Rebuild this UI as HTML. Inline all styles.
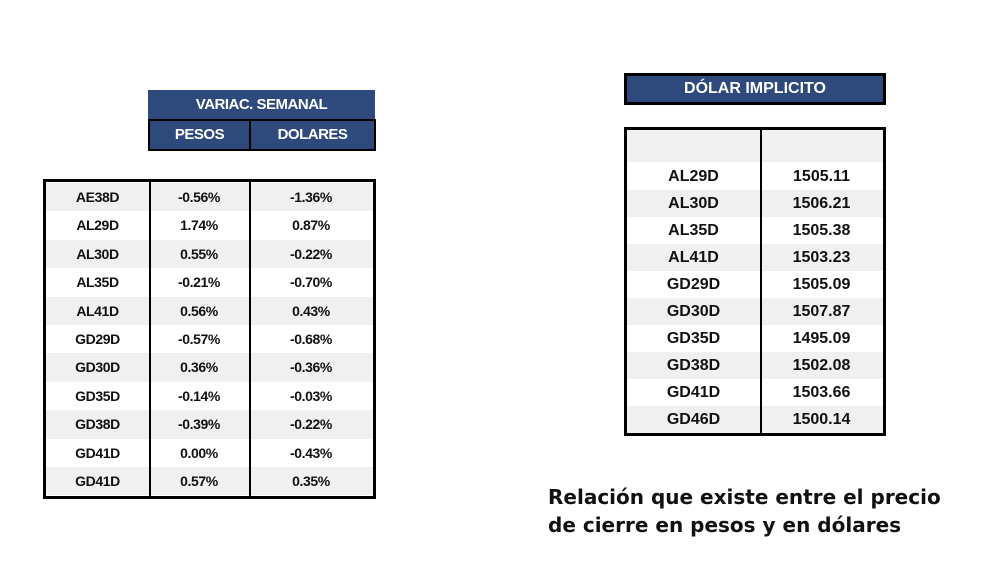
<!DOCTYPE html>
<html><head><meta charset="utf-8"><style>
body{margin:0;width:981px;height:573px;background:#fff;position:relative;overflow:hidden;font-family:"Liberation Sans",sans-serif}
.a{position:absolute;box-sizing:border-box}
.hdr{background:#2e4a7d;color:#fff;font-weight:bold;text-align:center;font-size:15px;letter-spacing:-0.5px}
.row{position:absolute;left:0;right:0;display:flex;font-weight:bold;font-size:14px;letter-spacing:-0.4px;color:#111}
.row div{text-align:center;box-sizing:border-box}
.g{background:#f0f0f0}
.r2 .row{font-size:16px;letter-spacing:0}
</style></head><body>
<div class="a hdr" style="left:148px;top:90px;width:227px;height:29px;line-height:29px">VARIAC. SEMANAL</div>
<div class="a hdr" style="left:148px;top:119px;width:228px;height:32px;border:2px solid #000;line-height:28px;display:flex">
<div style="width:99px;border-right:2px solid #000">PESOS</div><div style="flex:1">DOLARES</div></div>
<div class="a" style="left:43px;top:179px;width:333px;height:320px;border:3px solid #000;overflow:hidden">
<div class="a" style="left:103px;top:0;bottom:0;border-left:2px solid #000;z-index:2"></div>
<div class="a" style="left:203px;top:0;bottom:0;border-left:2px solid #000;z-index:2"></div>
<div id="L"></div>
</div>
<div class="a hdr" style="left:624px;top:73px;width:262px;height:32px;border:3px solid #000;line-height:26px;font-size:16px;letter-spacing:0">DÓLAR IMPLICITO</div>
<div class="a r2" style="left:624px;top:127px;width:262px;height:309px;border:3px solid #000;overflow:hidden">
<div class="a" style="left:133px;top:0;bottom:0;border-left:2px solid #000;z-index:2"></div>
<div class="a g" style="left:0;right:0;top:0;height:32px"></div>
<div id="R"></div>
</div>
<div class="a" style="left:548px;top:483px;font-family:'DejaVu Sans',sans-serif;font-weight:bold;font-size:20px;line-height:28px;color:#111">Relación que existe entre el precio<br>de cierre en pesos y en dólares</div>
<script>
var L=[["AE38D","-0.56%","-1.36%"],["AL29D","1.74%","0.87%"],["AL30D","0.55%","-0.22%"],["AL35D","-0.21%","-0.70%"],["AL41D","0.56%","0.43%"],["GD29D","-0.57%","-0.68%"],["GD30D","0.36%","-0.36%"],["GD35D","-0.14%","-0.03%"],["GD38D","-0.39%","-0.22%"],["GD41D","0.00%","-0.43%"],["GD41D","0.57%","0.35%"]];
var h="";L.forEach(function(r,i){h+='<div class="row'+(i%2==0?' g':'')+'" style="top:'+(i*28.4+1)+'px;height:28.4px;line-height:28.4px"><div style="width:103px">'+r[0]+'</div><div style="width:100px">'+r[1]+'</div><div style="flex:1">'+r[2]+'</div></div>';});
document.getElementById("L").innerHTML=h;
var R=[["AL29D","1505.11"],["AL30D","1506.21"],["AL35D","1505.38"],["AL41D","1503.23"],["GD29D","1505.09"],["GD30D","1507.87"],["GD35D","1495.09"],["GD38D","1502.08"],["GD41D","1503.66"],["GD46D","1500.14"]];
h="";R.forEach(function(r,i){h+='<div class="row'+(i%2==1?' g':'')+'" style="top:'+(33+i*27)+'px;height:27px;line-height:27px"><div style="width:133px">'+r[0]+'</div><div style="flex:1">'+r[1]+'</div></div>';});
document.getElementById("R").innerHTML=h;
</script>
</body></html>
